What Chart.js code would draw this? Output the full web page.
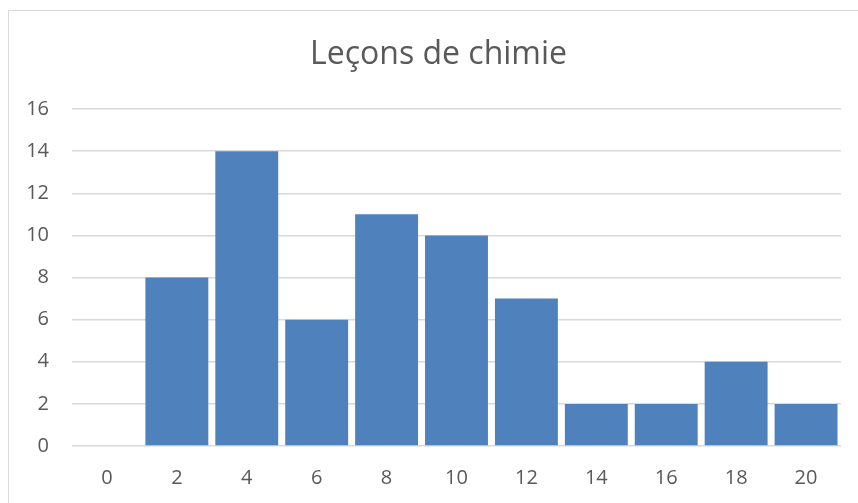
<!DOCTYPE html>
<html>
<head>
<meta charset="utf-8">
<script src="https://cdn.jsdelivr.net/npm/chart.js@4"></script>
<style>
  html, body { margin: 0; padding: 0; background: #fff; }
  #wrap { position: relative; width: 858px; height: 503px; overflow: hidden; }
  #frame { position: absolute; left: 8px; top: 10px; width: 900px; height: 600px;
           border: 1.5px solid #d9d9d9; box-sizing: border-box; }
  canvas { position: absolute; left: 0; top: 0; }
</style>
</head>
<body>
<div id="wrap">
  <div id="frame"></div>
  <canvas id="chart" width="858" height="503"></canvas>
</div>
<script>
const categories = ["0", "2", "4", "6", "8", "10", "12", "14", "16", "18", "20"];
const counts = [0, 8, 14, 6, 11, 10, 7, 2, 2, 4, 2];
const titleText = "Leçons de chimie";

const textColor = "#595959";
const gridColor = "#d9d9d9";
const font = "'Open Sans', 'Liberation Sans', sans-serif";

// centre the title on the frame rather than on the whole canvas
const shiftTitle = {
  id: "shiftTitle",
  afterLayout(chart) {
    if (chart.titleBlock) chart.titleBlock.left += 36;
  }
};

new Chart(document.getElementById("chart"), {
  type: "bar",
  data: {
    labels: categories,
    datasets: [{
      data: counts,
      backgroundColor: "#4f81bd",
      borderWidth: 0,
      barPercentage: 0.9,
      categoryPercentage: 1.0
    }]
  },
  options: {
    responsive: false,
    animation: false,
    layout: { padding: { left: 0, right: 17, top: 0, bottom: 0 } },
    plugins: {
      legend: { display: false },
      tooltip: { enabled: false },
      title: {
        display: true,
        text: titleText,
        color: textColor,
        font: { family: font, size: 32, weight: "normal", lineHeight: 1.2 },
        padding: { top: 36, bottom: 34.6 }
      }
    },
    scales: {
      x: {
        grid: { display: false, drawTicks: false },
        border: { display: false },
        ticks: { color: textColor, font: { family: font, size: 20 }, padding: 20, maxRotation: 0 },
        afterFit: (axis) => { axis.height = 57; }
      },
      y: {
        min: 0,
        max: 16,
        grid: { color: gridColor, lineWidth: 1.5, drawTicks: false },
        border: { display: false },
        ticks: { stepSize: 2, color: textColor, font: { family: font, size: 20 }, padding: 23 },
        afterFit: (axis) => { axis.width = 72; }
      }
    }
  },
  plugins: [shiftTitle]
});
</script>
</body>
</html>
